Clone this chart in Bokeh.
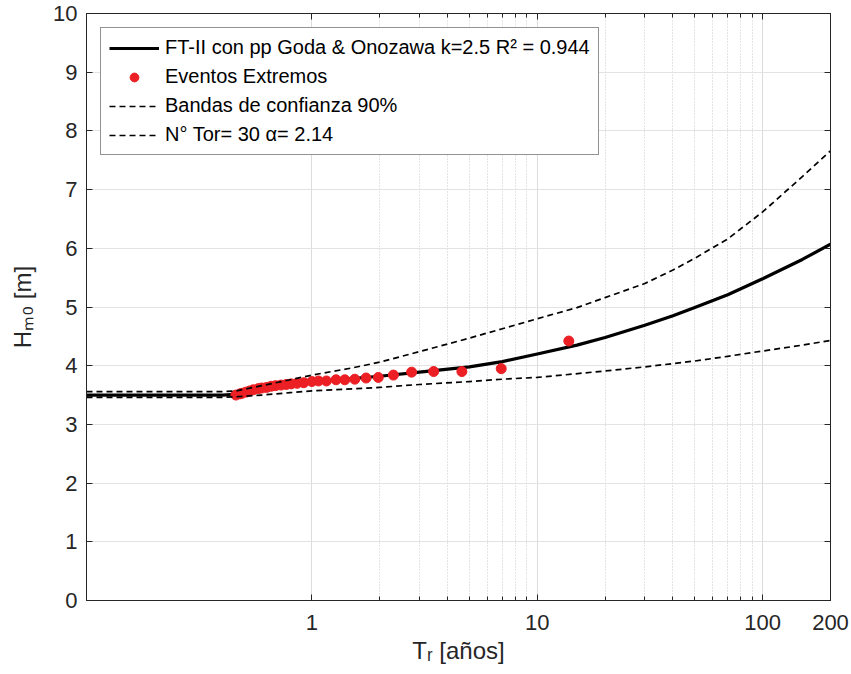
from bokeh.plotting import figure
from bokeh.models import (Range1d, FixedTicker, LinearAxis, LogAxis, Legend,
                          LegendItem)
from bokeh.embed import file_html
from bokeh.resources import INLINE

# ---------------- data ----------------
# Extreme events: return period [years] and Hm0 [m]
event_tr = [13.8, 6.92, 4.63, 3.47, 2.77, 2.30, 1.97, 1.74, 1.55, 1.40,
            1.28, 1.16, 1.07, 1.00, 0.92, 0.86, 0.81, 0.77, 0.73, 0.69,
            0.66, 0.63, 0.60, 0.58, 0.55, 0.53, 0.51, 0.49, 0.48, 0.46]
event_hm0 = [4.42, 3.95, 3.90, 3.90, 3.89, 3.84, 3.80, 3.79, 3.77, 3.76,
             3.76, 3.74, 3.74, 3.73, 3.71, 3.70, 3.69, 3.68, 3.67, 3.66,
             3.65, 3.63, 3.62, 3.61, 3.59, 3.57, 3.55, 3.53, 3.52, 3.50]

# FT-II fitted curve
fit_tr = [0.1, 0.2, 0.3, 0.4, 0.46, 0.5, 0.6, 0.7, 0.8, 1, 1.5, 2, 3, 5,
          7, 10, 15, 20, 30, 40, 50, 70, 100, 150, 200]
fit_hm0 = [3.50, 3.50, 3.50, 3.50, 3.51, 3.54, 3.60, 3.65, 3.68, 3.72, 3.78,
           3.82, 3.89, 3.98, 4.07, 4.20, 4.35, 4.48, 4.69, 4.85, 4.99, 5.21,
           5.48, 5.81, 6.07]

# 90% confidence bands
upper_tr = [0.1, 0.2, 0.3, 0.4, 0.46, 0.6, 0.8, 1, 1.5, 2, 3, 5, 7, 10, 15,
            20, 30, 40, 50, 70, 100, 150, 200]
upper_hm0 = [3.56, 3.56, 3.56, 3.56, 3.57, 3.66, 3.76, 3.84, 3.96, 4.06, 4.24,
             4.47, 4.63, 4.80, 4.99, 5.16, 5.40, 5.63, 5.83, 6.16, 6.62, 7.22,
             7.66]
lower_tr = [0.1, 0.2, 0.3, 0.4, 0.46, 0.6, 0.8, 1, 2, 3, 5, 7, 10, 20, 30,
            50, 70, 100, 150, 200]
lower_hm0 = [3.46, 3.46, 3.46, 3.46, 3.47, 3.50, 3.54, 3.57, 3.63, 3.68, 3.73,
             3.77, 3.80, 3.91, 3.98, 4.08, 4.16, 4.25, 4.35, 4.43]

x_major = [1, 10, 100, 200]
x_minor = [2, 3, 4, 5, 6, 7, 8, 9, 20, 30, 40, 50, 60, 70, 80, 90]
x_labels = ["1", "10", "100", "200"]
y_ticks = [0, 1, 2, 3, 4, 5, 6, 7, 8, 9, 10]

label_fit = "FT-II con pp Goda & Onozawa k=2.5 R\u00b2 = 0.944"
label_ev = "Eventos Extremos"
label_band = "Bandas de confianza 90%"
label_tor = "N\u00b0 Tor= 30 \u03b1= 2.14"

FONT = "Liberation Sans"
AX = "#262626"

# ---------------- figure ----------------
p = figure(width=849, height=672, x_axis_type="log",
           x_range=Range1d(0.1, 200), y_range=Range1d(0, 10),
           output_backend="svg", toolbar_location=None,
           min_border_left=86, min_border_right=19,
           min_border_top=13, min_border_bottom=72)
p.background_fill_color = "white"
p.outline_line_color = AX
p.outline_line_width = 1

xt = FixedTicker(ticks=x_major, minor_ticks=x_minor)
yt = FixedTicker(ticks=y_ticks)

# bottom axis
xa = p.xaxis[0]
xa.ticker = xt
xa.major_label_overrides = {v: s for v, s in zip(x_major, x_labels)}
xa.axis_label = "T\u1d63 [a\u00f1os]"
# left axis
ya = p.yaxis[0]
ya.ticker = yt
ya.axis_label = "H\u2098\u2080 [m]"

for ax in (xa, ya):
    ax.axis_line_color = AX
    ax.major_tick_line_color = AX
    ax.minor_tick_line_color = AX
    ax.major_tick_in = 6
    ax.major_tick_out = 0
    ax.minor_tick_in = 4
    ax.minor_tick_out = 0
    ax.major_label_text_font = FONT
    ax.major_label_text_font_size = "22px"
    ax.major_label_text_color = AX
    ax.axis_label_text_font = FONT
    ax.axis_label_text_font_size = "24px"
    ax.axis_label_text_font_style = "normal"
    ax.axis_label_text_color = AX
xa.major_label_standoff = 14
xa.axis_label_standoff = 4
ya.major_label_standoff = 9
ya.axis_label_standoff = 14

# mirrored axes (tick marks only, labels not drawn)
top = LogAxis(ticker=FixedTicker(ticks=x_major, minor_ticks=x_minor),
              major_label_text_font_size="1px", major_label_text_color=None,
              major_label_standoff=0,
              major_tick_in=6, major_tick_out=0, minor_tick_in=4,
              minor_tick_out=0, axis_line_color=AX,
              major_tick_line_color=AX, minor_tick_line_color=AX)
right = LinearAxis(ticker=FixedTicker(ticks=y_ticks),
                   major_label_text_font_size="1px",
                   major_label_text_color=None, major_label_standoff=0,
                   major_tick_in=6, major_tick_out=0, axis_line_color=AX,
                   major_tick_line_color=AX)
p.add_layout(top, "above")
p.add_layout(right, "right")

# grids
p.xgrid.ticker = xt
p.xgrid.grid_line_color = "#dcdcdc"
p.xgrid.grid_line_width = 1
p.xgrid.minor_grid_line_color = "#c8c8c8"
p.xgrid.minor_grid_line_dash = "1 2"
p.ygrid.ticker = yt
p.ygrid.grid_line_color = "#e3e3e3"
p.ygrid.grid_line_width = 1

# ---------------- glyphs ----------------
r_fit = p.line(fit_tr, fit_hm0, line_color="black", line_width=3.2,
               line_join="round")
r_ev = p.scatter(event_tr, event_hm0, size=10, marker="circle",
                 fill_color="#ec2024", line_color="#ec2024")
r_up = p.line(upper_tr, upper_hm0, line_color="black", line_width=1.7,
              line_dash="6 4", line_join="round")
r_lo = p.line(lower_tr, lower_hm0, line_color="black", line_width=1.7,
              line_dash="6 4", line_join="round")

legend = Legend(items=[
    LegendItem(label=label_fit, renderers=[r_fit]),
    LegendItem(label=label_ev, renderers=[r_ev]),
    LegendItem(label=label_band, renderers=[r_up]),
    LegendItem(label=label_tor, renderers=[r_lo]),
], location="top_left", margin=14, padding=8, spacing=6,
    glyph_width=50, glyph_height=22, label_height=22, label_standoff=6,
    label_text_font=FONT, label_text_font_size="20px",
    label_text_color="black", border_line_color=AX, border_line_width=1,
    background_fill_color="white", background_fill_alpha=1.0)
p.add_layout(legend, "center")

open("out.html", "w").write(file_html(p, INLINE))
